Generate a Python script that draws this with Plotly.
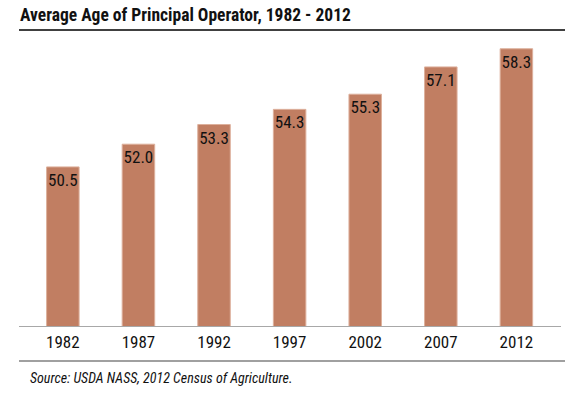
import plotly.graph_objects as go

years = ["1982", "1987", "1992", "1997", "2002", "2007", "2012"]
avg_age = [50.5, 52.0, 53.3, 54.3, 55.3, 57.1, 58.3]
labels = ["50.5", "52.0", "53.3", "54.3", "55.3", "57.1", "58.3"]

FONT = "Roboto Condensed, DejaVu Sans Condensed, sans-serif"

W, H = 584, 398
L, R, T, B = 19, 23, 23, 72
PH = H - T - B
PW = W - L - R

def py(px_from_plot_bottom):
    return px_from_plot_bottom / PH

fig = go.Figure(go.Bar(
    x=years, y=avg_age, text=labels,
    textposition="inside", insidetextanchor="end", textangle=0,
    textfont=dict(family=FONT, size=17, color="#111111"),
    marker=dict(color="#C17E62", line=dict(color="#DDB09C", width=1)),
    width=0.43, cliponaxis=False, constraintext="none",
    hoverinfo="skip",
))

fig.update_layout(
    width=W, height=H,
    margin=dict(l=L, r=R, t=T, b=B),
    paper_bgcolor="white", plot_bgcolor="white",
    showlegend=False,
    font=dict(family=FONT, color="#111111"),
    xaxis=dict(type="category", range=[-0.58, 6.59], showline=True,
               linecolor="#A8A8A8", linewidth=1.2, ticks="", showgrid=False,
               tickfont=dict(family=FONT, size=17, color="#111111"),
               fixedrange=True),
    yaxis=dict(range=[40, 60], visible=False, fixedrange=True),
    shapes=[
        dict(type="line", xref="paper", yref="paper", x0=0, x1=546 / PW,
             y0=py(296), y1=py(296), line=dict(color="black", width=1.5)),
        dict(type="line", xref="paper", yref="paper", x0=0, x1=546 / PW,
             y0=py(-35), y1=py(-35), line=dict(color="#808080", width=1.5)),
    ],
    annotations=[
        dict(text="<b>Average Age of Principal Operator, 1982 - 2012</b>",
             xref="paper", yref="paper", x=0, y=py(311),
             xanchor="left", yanchor="middle", showarrow=False, borderpad=0,
             font=dict(family=FONT, size=17.5, color="#111111")),
        dict(text="<i>Source: USDA NASS, 2012 Census of Agriculture.</i>",
             xref="paper", yref="paper", x=9 / PW, y=py(-52),
             xanchor="left", yanchor="middle", showarrow=False,
             font=dict(family=FONT, size=14, color="#111111")),
    ],
)

fig.write_html("out.html", config={"displayModeBar": False},
               post_script="document.body.style.margin='0';")
